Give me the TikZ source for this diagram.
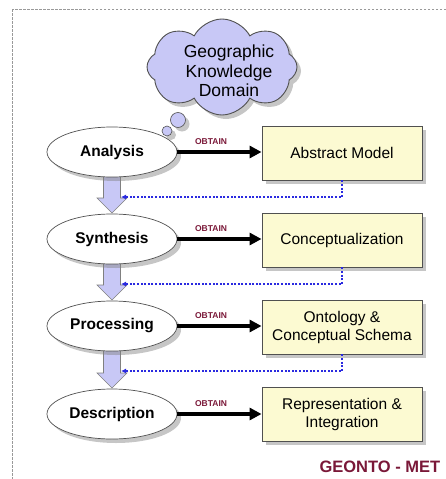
\documentclass[tikz,border=0pt]{standalone}
\usepackage{fontspec}
\setmainfont{Liberation Sans}
\usetikzlibrary{shapes.geometric,shapes.symbols,shadows,arrows.meta,calc}

\definecolor{lav}{HTML}{C8C8F6}
\definecolor{boxfill}{HTML}{FCFAD2}
\definecolor{wine}{HTML}{7A1838}
\definecolor{dashblue}{HTML}{2A2AE0}
\definecolor{edge}{HTML}{505050}

\tikzset{
  shade/.style={drop shadow={shadow xshift=4pt,shadow yshift=-4pt,opacity=0.45,fill=gray}},
  stage/.style={ellipse,draw=edge,fill=white,line width=0.7pt,minimum width=130pt,minimum height=50pt,
    font=\fontsize{15.5}{17}\selectfont\bfseries,shade},
  result/.style={rectangle,draw=edge,fill=boxfill,line width=0.9pt,minimum width=160pt,minimum height=54pt,
    align=center,font=\fontsize{15.5}{18}\selectfont,shade},
  obtain/.style={draw=black,line width=3.2pt,-{Triangle[length=12pt,width=12pt]}},
  obtainlbl/.style={font=\fontsize{8.5}{9}\selectfont\bfseries,text=wine,above=2pt,pos=0.4},
  feedback/.style={draw=dashblue,dash pattern=on 2pt off 1.6pt,line width=1.2pt,-{Latex[length=5pt,width=5pt]}},
  blockarrow/.style={fill=lav,draw=gray,line width=0.6pt},
  bubble/.style={circle,fill=lav,draw=edge,line width=0.6pt,inner sep=0pt},
}

\begin{document}
\begin{tikzpicture}[x=1pt,y=-1pt]
\useasboundingbox (0,0) rectangle (446,479);
\begin{scope}
\clip (0,0) rectangle (446,479);
% frame
\draw[gray!80,dash pattern=on 2.5pt off 1.5pt,line width=1pt] (12,9) rectangle (470,500);

% knowledge cloud
\node[cloud,cloud puffs=8,cloud puff arc=125,aspect=1.5,minimum width=150pt,minimum height=96pt,
  fill=lav,draw=edge,line width=0.9pt,shade] (cloud) at (222,67) {};
\node[align=center,font=\fontsize{17.5}{19.5}\selectfont] (cloudtxt) at (229,71) {Geographic\\Knowledge\\Domain};
\node[bubble,minimum size=15pt,shade] (b1) at (178,120) {};
\node[bubble,minimum size=10pt,shade] (b2) at (167,131) {};
\node[bubble,minimum size=6pt] (b3) at (160,139) {};

% stages and their results
\coordinate (p1) at (112,152);
\coordinate (p2) at (112,239);
\coordinate (p3) at (112,326);
\coordinate (p4) at (112,414);

% block arrows between stages (drawn first, behind the ellipses)
\foreach \a/\b in {p1/p2,p2/p3,p3/p4}{
  \path[blockarrow] let \p1=(\a), \p2=(\b) in
    (\x1-8.5pt,\y1-24pt) -- (\x1-8.5pt,\y2+41pt) -- (\x1-15pt,\y2+41pt) -- (\x1,\y2+26pt)
    -- (\x1+15pt,\y2+41pt) -- (\x1+8.5pt,\y2+41pt) -- (\x1+8.5pt,\y1-24pt) -- cycle;
}

\node[stage] (an) at (p1) {Analysis};
\node[stage] (sy) at (p2) {Synthesis};
\node[stage] (pr) at (p3) {Processing};
\node[stage] (de) at (p4) {Description};

\node[result] (am) at (342,153) {Abstract Model};
\node[result] (co) at (342,240) {Conceptualization};
\node[result] (on) at (342,327) {Ontology \&\\Conceptual Schema};
\node[result] (re) at (342,414) {Representation \&\\Integration};

% obtain arrows
\draw[obtain] (an.east) -- node[obtainlbl]{OBTAIN} (an.east -| am.west);
\draw[obtain] (sy.east) -- node[obtainlbl]{OBTAIN} (sy.east -| co.west);
\draw[obtain] (pr.east) -- node[obtainlbl]{OBTAIN} (pr.east -| on.west);
\draw[obtain] (de.east) -- node[obtainlbl]{OBTAIN} (de.east -| re.west);

% feedback from each result back to the flow
\coordinate (f1) at (121,197);
\coordinate (f2) at (121,284);
\coordinate (f3) at (121,371);
\draw[feedback] (am.south) |- (f1);
\draw[feedback] (co.south) |- (f2);
\draw[feedback] (on.south) |- (f3);

% method name
\node[anchor=west,font=\fontsize{16.5}{18}\selectfont\bfseries,text=wine] (name) at (316,467) {GEONTO - MET};
\end{scope}
\end{tikzpicture}
\end{document}
